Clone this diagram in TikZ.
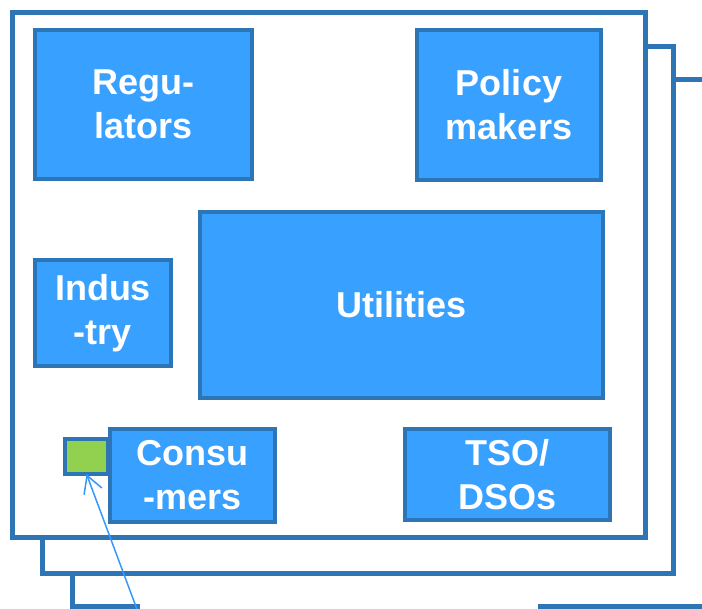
\documentclass[tikz,border=0pt]{standalone}
\usepackage{fontspec}
\setmainfont{Liberation Sans}
\usetikzlibrary{arrows.meta}
\definecolor{frameblue}{RGB}{46,117,182}
\definecolor{boxblue}{RGB}{56,160,255}
\definecolor{arrowblue}{RGB}{51,153,255}
\definecolor{leafgreen}{RGB}{146,208,80}
\tikzset{
	frame/.style={draw=frameblue, line width=5pt, fill=white},
	actor/.style={draw=frameblue, line width=4.5pt, fill=boxblue, text=white,
		font=\bfseries\fontsize{36}{44}\selectfont, align=center,
		inner sep=0pt, outer sep=0pt},
	marker/.style={draw=frameblue, line width=4.5pt, fill=leafgreen,
		inner sep=0pt, outer sep=0pt, minimum width=43pt, minimum height=35pt},
	pointer/.style={draw=arrowblue, line width=1.5pt,
		-{Straight Barb[length=17pt,width=19pt,line width=1.5pt]}}
}

\begin{document}
\begin{tikzpicture}[x=1pt, y=-1pt]
			%%%%% START %%%%%
			\useasboundingbox (0, 0) rectangle (702, 609);
			
			% stacked frames, back to front
			\draw[frameblue, line width=5pt] (720, 79.5) -| (72.5, 606.5) -- (140, 606.5);
			\draw[frameblue, line width=5pt] (538, 606.5) -- (720, 606.5);
			\draw[frame] (42.5, 46.5) rectangle (673.5, 573.5);
			\draw[frame] (12.5, 12.5) rectangle (645.5, 537.5);
			
			% stakeholders
			\node[actor, minimum width=217pt, minimum height=149pt] (reg) at (143.5, 104.5) {Regu-\\lators};
			\node[actor, minimum width=184pt, minimum height=150pt] (pol) at (509, 105) {Policy\\makers};
			\node[actor, minimum width=403pt, minimum height=186pt] (util) at (401.5, 305) {Utilities};
			\node[actor, minimum width=136pt, minimum height=106pt] (ind) at (103, 313) {Indus\\-try};
			
			\node[marker] (flag) at (86.5, 456.5) {};
			\node[actor, minimum width=165pt, minimum height=93pt] (cons) at (192.5, 475.5) {Consu\\-mers};
			\node[actor, minimum width=205pt, minimum height=91pt] (tso) at (507.5, 474.5) {TSO/\\DSOs};
			
			% pointer to the small marker
			\coordinate (tail) at (138, 612);
			\draw[pointer] (tail) -- (flag.south);
			
			%%%%% END %%%%%
\end{tikzpicture}
\end{document}
